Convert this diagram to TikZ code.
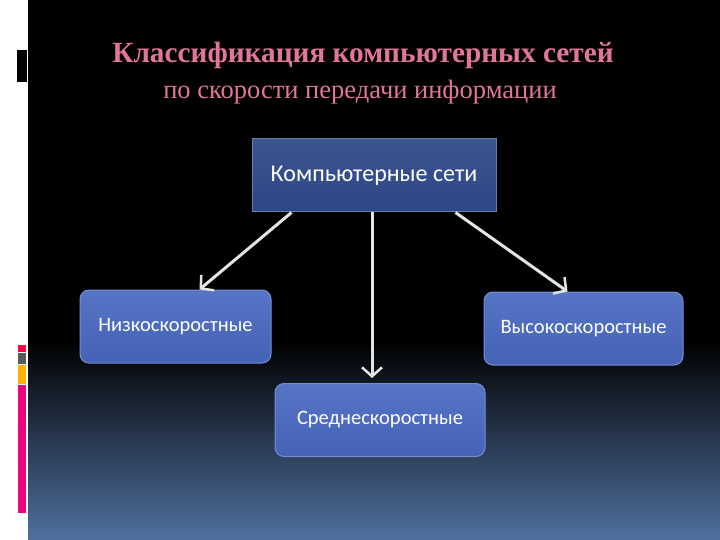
\documentclass[tikz,border=0pt]{standalone}
\usepackage{fontspec}
\setmainfont{Liberation Serif}
\newfontfamily\boxfont{Carlito}
\usepackage{xcolor}
\usetikzlibrary{arrows.meta, positioning, calc}

\definecolor{titlepink}{HTML}{E0769A}
\definecolor{topblue}{HTML}{2C4686}
\definecolor{boxblue}{HTML}{4868C0}
\definecolor{bgblue}{HTML}{50709F}
\definecolor{linkgray}{HTML}{E4E4E4}

\tikzset{
  topbox/.style={top color=topblue!92!white, bottom color=topblue, draw=topblue!70!white, line width=1pt,
    minimum width=244pt, minimum height=73pt, text=white, font=\boxfont\fontsize{24}{28}\selectfont},
  subbox/.style={top color=boxblue!92!white, bottom color=boxblue!95!black, draw=boxblue!75!white, line width=1pt,
    rounded corners=9pt, minimum height=73pt, text=white, font=\boxfont\fontsize{20.5}{24}\selectfont},
  link/.style={linkgray, line width=3pt, -{Straight Barb[length=9pt, width=20pt, line width=2.5pt]}}
}

\begin{document}
\begin{tikzpicture}[x=1pt, y=-1pt]
    \useasboundingbox (0,0) rectangle (720,540);
    \fill[white] (0,0) rectangle (28,540);
    \fill[black] (28,0) rectangle (720,540);
    \shade[top color=black, bottom color=bgblue] (28,340) rectangle (720,540);
    \fill[black] (17,50) rectangle (27,82);
    \fill[red!75!magenta] (18,345) rectangle (26,352);
    \fill[gray!70!black] (18,353) rectangle (26,364);
    \fill[orange!60!yellow] (18,365) rectangle (26,384);
    \fill[magenta!85!red] (18,385) rectangle (26,513);

    \node[titlepink, font=\bfseries\fontsize{29.3}{32}\selectfont] (title) at (363,55) {Классификация компьютерных сетей};
    \node[titlepink, font=\fontsize{26.5}{30}\selectfont] (subtitle) at (360,92) {по скорости передачи информации};

    \node[topbox] (net) at (374,175.5) {Компьютерные сети};
    \node[subbox, minimum width=191pt] (low) at (175.5,326.5) {Низкоскоростные};
    \node[subbox, minimum width=199pt] (high) at (583.5,328.5) {Высокоскоростные};
    \node[subbox, minimum width=210pt] (mid) at (380,420) {Среднескоростные};

    \draw[link] ([xshift=40pt]net.south west) -- ([xshift=120pt]low.north west);
    \draw[link] ([xshift=-41pt]net.south east) -- ([xshift=84pt]high.north west);
    \draw[link] ([xshift=-2pt]net.south) -- ([xshift=-8pt, yshift=5pt]mid.north);
\end{tikzpicture}
\end{document}
